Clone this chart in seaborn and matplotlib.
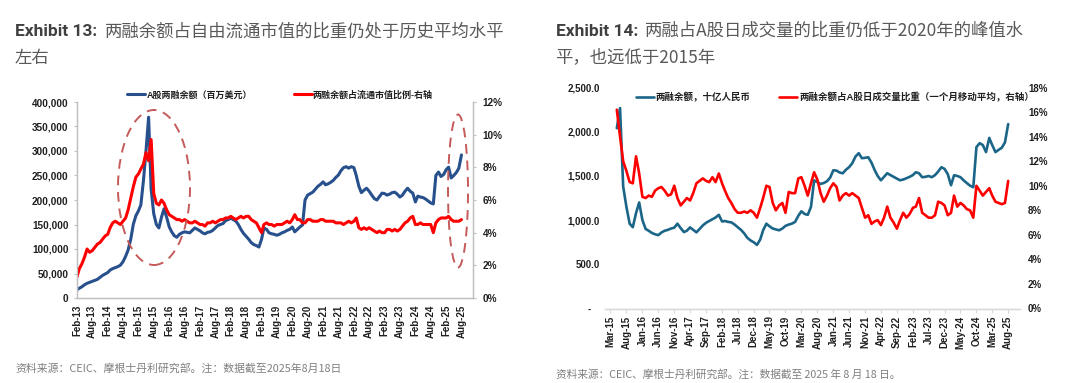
import matplotlib
matplotlib.use("Agg")
import numpy as np
import pandas as pd
import matplotlib.pyplot as plt
import matplotlib.dates as mdates
import matplotlib.ticker as mticker
from matplotlib.patches import Ellipse
from matplotlib.lines import Line2D
import seaborn as sns

# ---------------- data ----------------
# Exhibit 13: monthly, Feb-2013 .. Aug-2025
left_start = "2013-02-01"
left_balance_k = [  # A股两融余额, thousand of USD mn
    17, 20, 23, 27, 30, 32, 34, 36, 38, 42, 46,
    49, 52, 57, 60, 62, 64, 67, 74, 85, 98, 120, 150,
    168, 178, 190, 240, 300, 369, 222, 172, 150, 143, 165, 182,
    165, 145, 135, 127, 124, 130, 133, 135, 134, 133, 138, 143,
    140, 137, 133, 131, 134, 135, 138, 143, 148, 150, 152, 158,
    160, 163, 160, 157, 150, 140, 132, 126, 120, 113, 109, 107,
    104, 120, 143, 140, 133, 131, 130, 128, 130, 133, 135, 138,
    140, 145, 135, 140, 145, 149, 200, 210, 213, 216, 222, 228,
    232, 237, 231, 233, 236, 240, 246, 251, 260, 266, 268, 265,
    268, 266, 250, 228, 215, 220, 224, 218, 210, 203, 200, 207,
    214, 213, 210, 212, 215, 216, 212, 206, 210, 218, 224, 218,
    214, 196, 208, 206, 205, 202, 198, 194, 192, 250, 257, 248,
    252, 262, 267, 245, 250, 256, 265, 292,
]
left_ratio_pct = [  # 两融余额占流通市值比例, %
    1.3, 1.8, 2.1, 2.5, 3.0, 2.8, 2.9, 3.1, 3.3, 3.4, 3.6,
    3.8, 3.9, 4.3, 4.6, 4.7, 4.6, 4.5, 4.7, 4.9, 5.4, 6.1, 6.8,
    7.4, 7.6, 7.9, 8.2, 8.9, 8.4, 9.7, 6.4, 5.8, 5.7, 6.0, 5.8,
    5.4, 5.1, 5.0, 4.9, 4.8, 4.8, 4.7, 4.8, 4.7, 4.6, 4.6, 4.7,
    4.6, 4.5, 4.5, 4.4, 4.6, 4.6, 4.7, 4.6, 4.7, 4.8, 4.8, 4.9,
    4.9, 5.0, 4.9, 4.8, 4.9, 5.0, 4.9, 5.0, 5.0, 4.8, 4.7, 4.6,
    4.3, 4.0, 4.5, 4.6, 4.5, 4.5, 4.4, 4.5, 4.5, 4.5, 4.6, 4.7,
    4.6, 4.8, 5.1, 4.8, 4.8, 4.6, 4.6, 4.8, 4.8, 4.7, 4.7, 4.7,
    4.8, 4.8, 4.7, 4.7, 4.7, 4.7, 4.6, 4.6, 4.6, 4.5, 4.6, 4.7,
    4.6, 4.7, 4.9, 4.3, 4.2, 4.3, 4.2, 4.3, 4.2, 4.1, 4.0, 4.1,
    4.0, 4.0, 4.2, 4.2, 4.1, 4.2, 4.1, 4.2, 4.4, 4.6, 4.7, 4.9,
    5.0, 4.5, 4.5, 4.6, 4.5, 4.5, 4.5, 4.5, 4.0, 4.6, 4.8, 4.9,
    4.9, 4.9, 5.0, 4.8, 4.7, 4.7, 4.7, 4.8,
]

# Exhibit 14: monthly, May-2015 .. Aug-2025
right_start = "2015-05-01"
right_balance_bn = [  # 两融余额, 十亿人民币
    2040, 2268, 1380, 1150, 960, 920, 1080, 1200,
    1000, 900, 880, 855, 840, 830, 860, 880, 890, 905, 915, 960,
    910, 865, 880, 918, 890, 862, 900, 940, 970, 990, 1010, 1030,
    1060, 985, 990, 980, 975, 950, 920, 890, 850, 800, 770, 750,
    720, 780, 885, 960, 930, 905, 895, 885, 905, 935, 950, 960,
    980, 1050, 1100, 1070, 1060, 1150, 1450, 1430, 1410, 1420, 1440, 1480,
    1565, 1560, 1540, 1530, 1570, 1600, 1644, 1720, 1758, 1701, 1705, 1712,
    1650, 1565, 1500, 1451, 1490, 1531, 1510, 1490, 1470, 1451, 1460, 1474,
    1490, 1510, 1542, 1530, 1486, 1490, 1500, 1486, 1510, 1550, 1599, 1580,
    1520, 1395, 1508, 1500, 1486, 1450, 1420, 1390, 1372, 1826, 1871, 1850,
    1770, 1930, 1850, 1770, 1795, 1820, 1880, 2087,
]
right_ratio_pct = [  # 两融余额占A股日成交量比重 (1M MA), %
    16.2, 14.0, 12.0, 11.2, 10.3, 10.2, 12.4, 11.0,
    9.1, 9.0, 9.2, 9.1, 9.6, 9.8, 9.9, 9.6, 9.2, 9.3, 10.0, 9.0,
    8.4, 8.7, 9.0, 8.8, 9.4, 10.2, 10.4, 10.6, 10.4, 10.3, 10.7, 10.3,
    11.0, 10.2, 9.6, 9.0, 8.6, 8.1, 7.8, 7.8, 7.9, 7.8, 8.0, 7.8,
    7.4, 8.2, 9.0, 10.0, 9.9, 8.6, 8.0, 8.4, 8.6, 7.8, 9.5, 9.4,
    9.4, 10.6, 10.7, 10.0, 9.2, 10.2, 11.1, 10.5, 9.4, 8.7, 9.2, 9.8,
    10.2, 9.9, 8.8, 9.2, 9.4, 9.2, 9.4, 9.2, 9.0, 8.2, 7.4, 7.6,
    6.9, 7.1, 7.2, 6.8, 7.4, 8.3, 7.4, 7.0, 6.5, 7.2, 7.8, 7.4,
    7.7, 8.2, 8.3, 9.0, 7.8, 7.6, 7.4, 7.4, 7.6, 8.7, 8.6, 8.4,
    7.6, 7.8, 9.2, 8.3, 8.6, 8.4, 8.1, 8.0, 7.4, 10.0, 9.6, 9.2,
    9.5, 9.8, 9.2, 8.7, 8.6, 8.5, 8.6, 10.4,
]

left_title_head = "Exhibit 13:"
left_title_l1 = "两融余额占自由流通市值的比重仍处于历史平均水平"
left_title_l2 = "左右"
right_title_head = "Exhibit 14:"
right_title_l1 = "两融占A股日成交量的比重仍低于2020年的峰值水"
right_title_l2 = "平，也远低于2015年"
left_legend = ["A股两融余额（百万美元）", "两融余额占流通市值比例-右轴"]
right_legend = ["两融余额，十亿人民币", "两融余额占A股日成交量比重（一个月移动平均，右轴）"]
left_note = "资料来源：CEIC、摩根士丹利研究部。注：数据截至2025年8月18日"
right_note = "资料来源：CEIC、摩根士丹利研究部。注：数据截至 2025 年 8 月 18 日。"

# ---------------- style ----------------
sns.set_theme(style="white")
plt.rcParams['font.family'] = ['Liberation Sans', 'Noto Sans CJK SC', 'DejaVu Sans']
plt.rcParams['axes.unicode_minus'] = False

L_BLUE = "#27508C"
R_BLUE = "#1B6688"
RED = "#FF0000"
TICK_C = "#1F1F1F"
SPINE_C = "#BFBFBF"
CJK = ['Noto Sans CJK SC', 'DejaVu Sans']

fig = plt.figure(figsize=(10.8, 3.83), dpi=100)
W, H = 1080, 383

def box(x0, y0, x1, y1):
    return [x0 / W, 1 - y1 / H, (x1 - x0) / W, (y1 - y0) / H]

# ================= LEFT CHART =================
axL = fig.add_axes(box(77, 102, 473, 298))
axL2 = axL.twinx()
l_dates = pd.date_range(left_start, periods=len(left_balance_k), freq="MS")
l_df = pd.DataFrame({"date": l_dates,
                     "balance": np.array(left_balance_k) * 1000.0,
                     "ratio": np.array(left_ratio_pct) / 100.0})
sns.lineplot(data=l_df, x="date", y="balance", ax=axL, color=L_BLUE, lw=2.2)
sns.lineplot(data=l_df, x="date", y="ratio", ax=axL2, color=RED, lw=2.2)

axL.set_ylim(0, 400000)
axL2.set_ylim(0, 0.12)
axL.yaxis.set_major_locator(mticker.MultipleLocator(50000))
axL2.yaxis.set_major_locator(mticker.MultipleLocator(0.02))
axL.yaxis.set_major_formatter(mticker.FuncFormatter(lambda v, p: f"{v:,.0f}"))
axL2.yaxis.set_major_formatter(mticker.FuncFormatter(lambda v, p: f"{v*100:.0f}%"))
l_x0 = mdates.date2num(pd.Timestamp("2013-02-01"))
l_x1 = mdates.date2num(pd.Timestamp("2025-12-16"))
axL.set_xlim(l_x0, l_x1)
l_ticks = pd.date_range("2013-02-01", "2025-08-01", freq="6MS")
axL.set_xticks(mdates.date2num(l_ticks))
axL.set_xticklabels([d.strftime("%b-%y") for d in l_ticks], rotation=90)
for a in (axL, axL2):
    a.set_xlabel("")
    a.set_ylabel("")
    a.spines["top"].set_visible(False)
    for s in ("left", "right", "bottom"):
        a.spines[s].set_color(SPINE_C)
        a.spines[s].set_linewidth(0.9)
axL.tick_params(axis="x", length=3, width=0.8, color=SPINE_C, pad=2,
                labelsize=7, labelcolor=TICK_C)
axL.tick_params(axis="y", length=2.5, width=0.8, color=SPINE_C, pad=3.5,
                labelsize=7.2, labelcolor=TICK_C, left=True)
axL2.tick_params(axis="y", length=2.5, width=0.8, color=SPINE_C, pad=4.5,
                 labelsize=7.2, labelcolor=TICK_C, right=True)
for lab in axL.get_xticklabels() + axL.get_yticklabels() + axL2.get_yticklabels():
    lab.set_fontweight("bold")
axL.grid(False)
axL2.grid(False)

# dashed highlight ellipses
ell_c = "#C55A5A"
for (cx, cy, w, h) in [(154, 187.5, 72, 155), (458, 191, 20, 153)]:
    e = Ellipse(((cx - 77) / 396, (298 - cy) / 196), w / 396, h / 196,
                transform=axL.transAxes, fill=False, edgecolor=ell_c,
                lw=1.4, ls=(0, (5, 3.5)), zorder=5, clip_on=False)
    axL2.add_patch(e)
    e.set_transform(axL.transAxes)

hL = [Line2D([], [], color=L_BLUE, lw=2.2), Line2D([], [], color=RED, lw=2.2)]
legL = axL2.legend(hL, left_legend, loc="center", ncol=2, frameon=False,
                   bbox_to_anchor=((280 - 77) / 396, (298 - 95) / 196),
                   bbox_transform=axL.transAxes,
                   handlelength=2.0, handletextpad=0.15, columnspacing=4.6,
                   prop={"family": ['Liberation Sans', 'Noto Sans CJK SC'],
                         "weight": "bold", "size": 6.5})
for t in legL.get_texts():
    t.set_color(TICK_C)

# ================= RIGHT CHART =================
axR = fig.add_axes(box(605, 87.6, 1020, 308.5))
axR2 = axR.twinx()
r_dates = pd.date_range(right_start, periods=len(right_balance_bn), freq="MS")
r_df = pd.DataFrame({"date": r_dates,
                     "balance": right_balance_bn,
                     "ratio": np.array(right_ratio_pct) / 100.0})
sns.lineplot(data=r_df, x="date", y="balance", ax=axR, color=R_BLUE, lw=1.9)
sns.lineplot(data=r_df, x="date", y="ratio", ax=axR2, color=RED, lw=1.9)

axR.set_ylim(0, 2500)
axR2.set_ylim(0, 0.18)
axR.yaxis.set_major_locator(mticker.MultipleLocator(500))
axR2.yaxis.set_major_locator(mticker.MultipleLocator(0.02))
axR.yaxis.set_major_formatter(mticker.FuncFormatter(
    lambda v, p: "-   " if abs(v) < 1e-9 else f"{v:,.1f}"))
axR2.yaxis.set_major_formatter(mticker.FuncFormatter(lambda v, p: f"{v*100:.0f}%"))
r_x0 = mdates.date2num(pd.Timestamp("2015-01-08"))
r_x1 = mdates.date2num(pd.Timestamp("2025-11-22"))
axR.set_xlim(r_x0, r_x1)
r_ticks = pd.date_range("2015-03-01", "2025-08-01", freq="5MS")
axR.set_xticks(mdates.date2num(r_ticks))
axR.set_xticklabels([d.strftime("%b-%y") for d in r_ticks], rotation=90)
for a in (axR, axR2):
    a.set_xlabel("")
    a.set_ylabel("")
    for s in ("top", "left", "right"):
        a.spines[s].set_visible(False)
    a.spines["bottom"].set_color("#D9D9D9")
    a.spines["bottom"].set_linewidth(1.0)
axR.tick_params(axis="x", length=3, width=0.8, color="#D9D9D9", pad=2,
                labelsize=7, labelcolor=TICK_C, bottom=True)
axR.tick_params(axis="y", length=0, pad=3.6, labelsize=7.0, labelcolor=TICK_C)
axR2.tick_params(axis="y", length=0, pad=5.8, labelsize=7.0, labelcolor=TICK_C)
for lab in axR.get_xticklabels() + axR.get_yticklabels() + axR2.get_yticklabels():
    lab.set_fontweight("bold")
axR.grid(False)
axR2.grid(False)

hR = [Line2D([], [], color=R_BLUE, lw=1.9), Line2D([], [], color=RED, lw=1.9)]
legR = axR2.legend(hR, right_legend, loc="center", ncol=2, frameon=False,
                   bbox_to_anchor=((835 - 605) / 415, (308.5 - 97) / 220.9),
                   bbox_transform=axR.transAxes,
                   handlelength=1.9, handletextpad=0.2, columnspacing=3.0,
                   prop={"family": ['Liberation Sans', 'Noto Sans CJK SC'],
                         "weight": "bold", "size": 6.8})
for t in legR.get_texts():
    t.set_color(TICK_C)

# ================= TITLES & NOTES =================
HEAD_C = "#404040"
TXT_C = "#595959"
for x_head, x_cn, head, l1, l2 in [
        (15, 105, left_title_head, left_title_l1, left_title_l2),
        (555.5, 645, right_title_head, right_title_l1, right_title_l2)]:
    fig.text(x_head / W, 1 - 31 / H, head, fontsize=12.5, fontweight="bold",
             family=['Roboto', 'Liberation Sans'], color=HEAD_C, va="center", ha="left")
    fig.text(x_cn / W, 1 - 31 / H, l1, fontsize=12.5, family=CJK,
             color=TXT_C, va="center", ha="left")
    fig.text(x_head / W, 1 - 57.5 / H, l2, fontsize=12.5, family=CJK,
             color=TXT_C, va="center", ha="left")

fig.text(15 / W, 1 - 368 / H, left_note, fontsize=7.8, family=CJK,
         color="#7F7F7F", va="center", ha="left")
fig.text(555.5 / W, 1 - 374.5 / H, right_note, fontsize=7.7, family=CJK,
         color="#7F7F7F", va="center", ha="left")

fig.savefig("out.png", dpi=100, facecolor="white")
